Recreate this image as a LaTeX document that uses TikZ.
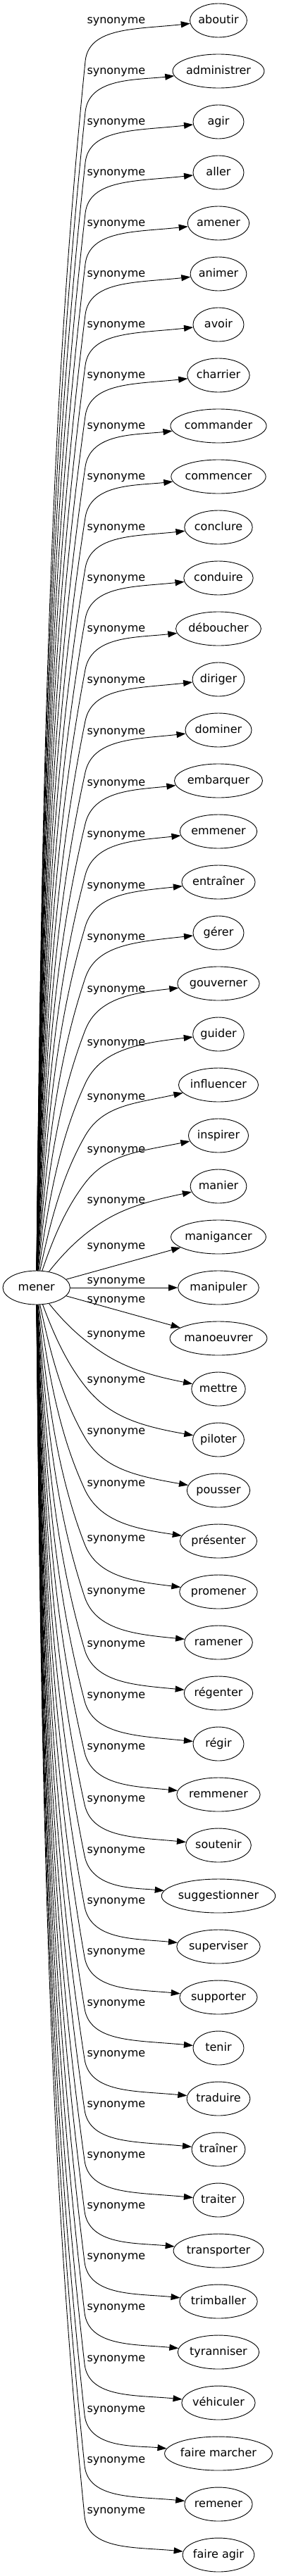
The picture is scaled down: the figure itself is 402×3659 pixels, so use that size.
\documentclass[tikz,border=0pt]{standalone}
\usepackage{fontspec}
\setmainfont{DejaVu Sans}
\usetikzlibrary{arrows.meta,shapes.geometric}
\newlength\synw
\newcommand\gvfont{\fontsize{16pt}{19pt}\selectfont}
\tikzset{
  gnode/.style={draw, ellipse, line width=0.9pt, inner sep=0pt, minimum height=48pt, font=\gvfont, text height=12.8pt, text depth=3.2pt},
  elab/.style={anchor=west, inner sep=0pt, font=\gvfont, text height=12.8pt, text depth=3.2pt},
  gedge/.style={line width=0.9pt, -{Triangle[length=13pt,width=9pt]}},
}
% #1 index, #2 text, #3 label offset, #4 waypoint offset, #5 arrival angle, #6 kind (u/d/s)
\newcommand\syn[6]{%
  \pgfmathsetmacro\Qty{29+72*#1}%
  \settowidth\synw{\gvfont #2}%
  \pgfmathsetmacro\Qew{max(72,1.293*(\synw+21.7))}%
  \node[gnode, minimum width=\Qew pt] (t#1) at (310,\Qty) {#2};
  \pgfmathsetmacro\Qly{\Qty+#3}%
  \node[elab] (l#1) at (123.3,\Qly) {synonyme};
  \ifx s#6
    \draw[gedge] (mener) -- (t#1);
  \else
    \ifx u#6 \def\Qsg{1}\def\Qwx{121}\else \def\Qsg{-1}\def\Qwx{120}\fi
    \pgfmathsetmacro\Qwy{\Qly+#4}%
    \pgfmathsetmacro\QhW{\Qsg*(1829-\Qwy)}%
    \pgfmathsetmacro\QhT{\Qsg*(1829-\Qty)}%
    \pgfmathsetmacro\QTx{310-\Qew/2}%
    \pgfmathsetmacro\QdxA{\Qwx-51.7}%
    \pgfmathsetmacro\QpA{atan2(\QhW,\QdxA)}%
    \pgfmathsetmacro\QLA{veclen(\QdxA,\QhW)}%
    \pgfmathsetmacro\QdxB{\QTx-\Qwx}%
    \pgfmathsetmacro\QdhB{\QhT-\QhW}%
    \pgfmathsetmacro\QpB{atan2(\QdhB,\QdxB)}%
    \pgfmathsetmacro\QLB{veclen(\QdxB,\QdhB)}%
    \pgfmathsetmacro\Qtht{\QpA-0.6*\QLB/(\QLA+\QLB)*(\QpA-\QpB)}%
    \pgfmathsetmacro\QoA{min(89.5,\QpA+0.5*(\QpA-\Qtht))}%
    \pgfmathsetmacro\Qcax{51.7+0.5*\QLA*cos(\QoA)}%
    \pgfmathsetmacro\Qcay{1829-\Qsg*0.5*\QLA*sin(\QoA)}%
    \pgfmathsetmacro\Qcbx{\Qwx-0.25*\QLA*cos(\Qtht)}%
    \pgfmathsetmacro\Qcby{1829-\Qsg*(\QhW-0.25*\QLA*sin(\Qtht))}%
    \pgfmathsetmacro\Qccx{\Qwx+0.3*\QLB*cos(\Qtht)}%
    \pgfmathsetmacro\Qccy{1829-\Qsg*(\QhW+0.3*\QLB*sin(\Qtht))}%
    \pgfmathsetmacro\Qcdx{\QTx-0.5*\QLB*cos(#5)}%
    \pgfmathsetmacro\Qcdy{1829-\Qsg*(\QhT-0.5*\QLB*sin(#5))}%
    \coordinate (w#1) at (\Qwx,\Qwy);
    \draw[gedge] (mener) .. controls (\Qcax,\Qcay) and (\Qcbx,\Qcby) .. (w#1) .. controls (\Qccx,\Qccy) and (\Qcdx,\Qcdy) .. (t#1);
  \fi
}
\begin{document}
\begin{tikzpicture}[x=1pt,y=-1pt]
\fill[white] (0,0) rectangle (402,3659);
\useasboundingbox (0,0) rectangle (402,3659);
\node[gnode, minimum width=95.3pt] (mener) at (51.7,1829) {mener};
\syn{0}{aboutir}{0}{58}{9}{u}
\syn{1}{administrer}{0}{58}{9}{u}
\syn{2}{agir}{0}{58}{9}{u}
\syn{3}{aller}{0}{58}{9}{u}
\syn{4}{amener}{0}{58}{9}{u}
\syn{5}{animer}{0}{58}{9}{u}
\syn{6}{avoir}{0}{58}{9}{u}
\syn{7}{charrier}{0}{58}{9}{u}
\syn{8}{commander}{0}{58}{9}{u}
\syn{9}{commencer}{0}{58}{9}{u}
\syn{10}{conclure}{0}{58}{9}{u}
\syn{11}{conduire}{0}{58}{9}{u}
\syn{12}{déboucher}{0}{58}{9}{u}
\syn{13}{diriger}{1}{58}{9}{u}
\syn{14}{dominer}{2}{58}{9}{u}
\syn{15}{embarquer}{3}{58}{9}{u}
\syn{16}{emmener}{4}{58}{9}{u}
\syn{17}{entraîner}{5}{58}{9}{u}
\syn{18}{gérer}{6}{58}{9}{u}
\syn{19}{gouverner}{8}{58}{9}{u}
\syn{20}{guider}{12}{58}{9}{u}
\syn{21}{influencer}{17}{55}{18}{u}
\syn{22}{inspirer}{20}{47}{16}{u}
\syn{23}{manier}{20}{48}{17}{u}
\syn{24}{manigancer}{13}{0}{0}{s}
\syn{25}{manipuler}{-10}{0}{0}{s}
\syn{26}{manoeuvrer}{-55}{0}{0}{s}
\syn{27}{mettre}{-78}{8}{16}{d}
\syn{28}{piloter}{-85}{8}{14}{d}
\syn{29}{pousser}{-84}{8}{14}{d}
\syn{30}{présenter}{-82}{8}{12}{d}
\syn{31}{promener}{-76}{8}{10}{d}
\syn{32}{ramener}{-73}{8}{8}{d}
\syn{33}{régenter}{-70}{8}{8}{d}
\syn{34}{régir}{-69}{8}{8}{d}
\syn{35}{remmener}{-68}{8}{8}{d}
\syn{36}{soutenir}{-66}{8}{8}{d}
\syn{37}{suggestionner}{-65}{8}{8}{d}
\syn{38}{superviser}{-65}{8}{8}{d}
\syn{39}{supporter}{-65}{8}{8}{d}
\syn{40}{tenir}{-64}{8}{8}{d}
\syn{41}{traduire}{-64}{8}{8}{d}
\syn{42}{traîner}{-64}{8}{8}{d}
\syn{43}{traiter}{-64}{8}{8}{d}
\syn{44}{transporter}{-64}{8}{8}{d}
\syn{45}{trimballer}{-64}{8}{8}{d}
\syn{46}{tyranniser}{-64}{8}{8}{d}
\syn{47}{véhiculer}{-63}{8}{8}{d}
\syn{48}{faire marcher}{-63}{8}{8}{d}
\syn{49}{remener}{-63}{8}{8}{d}
\syn{50}{faire agir}{-63}{8}{8}{d}
\end{tikzpicture}
\end{document}
